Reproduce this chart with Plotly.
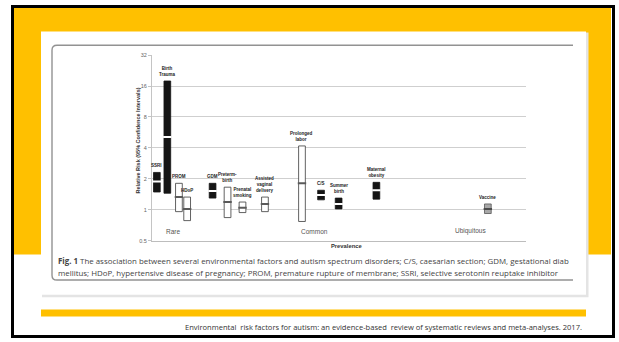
import math
import plotly.graph_objects as go

# ---------------- data ----------------
factors = ["SSRI", "Birth Trauma", "PROM", "HDoP", "GDM", "Preterm birth",
           "Prenatal smoking", "Assisted vaginal delivery", "Prolonged labor",
           "C/S", "Summer birth", "Maternal obesity", "Vaccine"]
labels = ["SSRI", "Birth<br>Trauma", "PROM", "HDoP", "GDM", "Preterm-<br>birth",
          "Prenatal<br>smoking", "Assisted<br>vaginal<br>delivery", "Prolonged<br>labor",
          "C/S", "Summer<br>birth", "Maternal<br>obesity", "Vaccine"]
prevalence_pos = [1.3, 4.1, 7.2, 9.4, 16.2, 20.2, 24.2, 30.2, 40.1, 45.2, 49.9, 60.0, 89.8]
rr = [1.89, 5.1, 1.33, 1.02, 1.52, 1.19, 1.05, 1.14, 1.81, 1.39, 1.14, 1.55, 1.02]
ci_low = [1.49, 1.45, 0.96, 0.785, 1.30, 0.84, 0.94, 0.96, 0.77, 1.25, 1.02, 1.27, 0.92]
ci_high = [2.31, 17.9, 1.81, 1.33, 1.81, 1.66, 1.19, 1.33, 4.18, 1.55, 1.30, 1.85, 1.14]
kind = ["filled", "filled", "open", "open", "filled", "open", "open", "open", "open",
        "filled", "filled", "filled", "gray"]

groups = ["Rare", "Common", "Ubiquitous"]
group_pos = [5.5, 43.5, 85.2]
group_rr = 0.616

tick_vals = [0.5, 1, 2, 4, 8, 16, 32]
tick_text = ["0.5", "1", "2", "4", "8", "16", "32"]

caption = ("<b>Fig. 1</b> The association between several environmental factors and autism "
           "spectrum disorders; C/S, caesarian section; GDM, gestational diab")
caption2 = ("mellitus; HDoP, hypertensive disease of pregnancy; PROM, premature rupture of "
            "membrane; SSRI, selective serotonin reuptake inhibitor")
footer = ("Environmental  risk factors for autism: an evidence-based  review of systematic "
          "reviews and meta-analyses. 2017.")

# ---------------- layout helpers ----------------
W, H = 619, 342


def px(x):
    return x / W


def py(y):
    return 1 - y / H


YELLOW = "#FFC000"
fill_map = {"filled": "#151515", "open": "#ffffff", "gray": "#a8a8a8"}
edge_map = {"filled": "#151515", "open": "#3a3a3a", "gray": "#555555"}
pt_map = {"filled": "#ffffff", "open": "#5a5a5a", "gray": "#4a4a4a"}

fig = go.Figure()

fig.add_trace(go.Bar(
    x=prevalence_pos,
    y=[h - l for h, l in zip(ci_high, ci_low)],
    base=ci_low,
    width=1.8,
    marker=dict(color=[fill_map[k] for k in kind],
                line=dict(color=[edge_map[k] for k in kind], width=0.8)),
    hoverinfo="skip",
))

fig.add_trace(go.Scatter(
    x=prevalence_pos, y=rr, mode="markers",
    marker=dict(symbol="line-ew", size=6,
                line=dict(width=2, color=[pt_map[k] for k in kind])),
    hoverinfo="skip",
))

annotations = []
for xp, hi, lab in zip(prevalence_pos, ci_high, labels):
    annotations.append(dict(
        x=xp, y=math.log10(hi), xref="x", yref="y", text="<b>" + lab + "</b>",
        showarrow=False, xanchor="center", yanchor="bottom", yshift=2,
        font=dict(size=4.5, color="#222", family="Liberation Sans")))

for g, gx in zip(groups, group_pos):
    annotations.append(dict(
        x=gx, y=math.log10(group_rr), xref="x", yref="y", text=g, showarrow=False,
        xanchor="center", yanchor="middle",
        font=dict(size=6.5, color="#555", family="Liberation Sans")))

# axis titles
annotations.append(dict(
    x=px(138), y=py(140), xref="paper", yref="paper", xanchor="center", yanchor="middle",
    text="<b>Relative Risk (95% Confidence Intervals)</b>", textangle=-90,
    showarrow=False, font=dict(size=5.5, color="#333", family="Liberation Sans")))
annotations.append(dict(
    x=px(347), y=py(247), xref="paper", yref="paper", xanchor="center", yanchor="middle",
    text="<b>Prevalence</b>",
    showarrow=False, font=dict(size=5.8, color="#333", family="Liberation Sans")))

# caption
annotations.append(dict(
    x=px(56), y=py(263), xref="paper", yref="paper", xanchor="left", yanchor="middle",
    text=caption, showarrow=False, font=dict(size=7.9, color="#444", family="Open Sans")))
annotations.append(dict(
    x=px(56), y=py(275), xref="paper", yref="paper", xanchor="left", yanchor="middle",
    text=caption2, showarrow=False, font=dict(size=7.9, color="#444", family="Open Sans")))

# footer
annotations.append(dict(
    x=px(584), y=py(330), xref="paper", yref="paper", xanchor="right", yanchor="middle",
    text=footer, showarrow=False, font=dict(size=7.55, color="#333", family="Open Sans")))

shapes = []
# yellow background
shapes.append(dict(type="rect", xref="paper", yref="paper", layer="below",
                   x0=px(14), x1=px(611), y0=py(256), y1=py(5),
                   fillcolor=YELLOW, line=dict(width=0)))
# card shadow
shapes.append(dict(type="rect", xref="paper", yref="paper", layer="below",
                   x0=px(42), x1=px(588.5), y0=py(299.5), y1=py(30),
                   fillcolor="#e4e4e4", line=dict(width=0)))
# card
shapes.append(dict(type="rect", xref="paper", yref="paper", layer="below",
                   x0=px(41), x1=px(586), y0=py(297), y1=py(29),
                   fillcolor="#ffffff", line=dict(width=0)))
# chart image border (rounded, cropped on the right)
path = (f"M {px(573)},{py(43)} L {px(57)},{py(43)} "
        f"Q {px(52)},{py(43)} {px(52)},{py(48)} "
        f"L {px(52)},{py(277)} Q {px(52)},{py(282)} {px(57)},{py(282)} "
        f"L {px(573)},{py(282)}")
shapes.append(dict(type="path", xref="paper", yref="paper", layer="below",
                   path=path, line=dict(color="#929292", width=1.4)))
# footer yellow stripe
shapes.append(dict(type="rect", xref="paper", yref="paper", layer="below",
                   x0=px(41), x1=px(586), y0=py(319), y1=py(312),
                   fillcolor=YELLOW, line=dict(width=0)))
# black frame
shapes.append(dict(type="rect", xref="paper", yref="paper", layer="above",
                   x0=px(12.5), x1=px(613.5), y0=py(339.5), y1=py(3.5),
                   fillcolor="rgba(0,0,0,0)", line=dict(color="#000", width=3)))

fig.update_layout(
    width=W, height=H, margin=dict(l=0, r=0, t=0, b=0),
    paper_bgcolor="#ffffff", plot_bgcolor="rgba(0,0,0,0)",
    showlegend=False, barmode="overlay",
    annotations=annotations, shapes=shapes,
    xaxis=dict(domain=[px(152), px(526)], range=[0, 100], showgrid=False,
               zeroline=False, showticklabels=False, ticks="",
               showline=True, linecolor="#bdbdbd", linewidth=1, fixedrange=True),
    yaxis=dict(domain=[py(242), py(53)], type="log",
               range=[math.log10(0.5), math.log10(32)],
               tickvals=tick_vals, ticktext=tick_text,
               showgrid=True, gridcolor="#cfcfcf", gridwidth=1,
               showline=True, linecolor="#c4c4c4", linewidth=1,
               ticks="outside", ticklen=3, tickcolor="#c4c4c4",
               tickfont=dict(size=5.5, color="#666", family="Liberation Sans"),
               zeroline=False, fixedrange=True),
)

fig.write_html("out.html",
               config={"displayModeBar": False},
               post_script="document.body.style.margin='0px';"
                           "document.body.style.padding='0px';")
